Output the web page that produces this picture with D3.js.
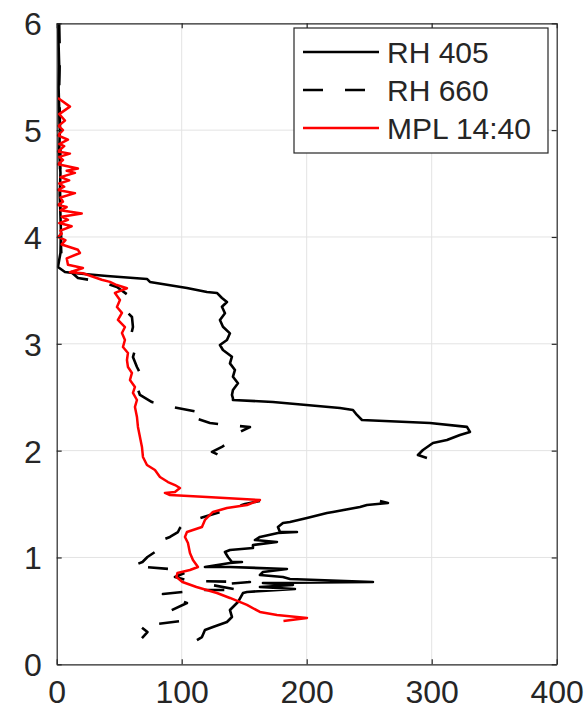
<!DOCTYPE html>
<html>
<head>
<meta charset="utf-8">
<script src="https://cdn.jsdelivr.net/npm/d3@7"></script>
<style>
  html, body { margin: 0; padding: 0; background: #fff; }
  text { font-family: Helvetica, "Liberation Sans", Arial, sans-serif; fill: #262626; }
</style>
</head>
<body>
<div id="chart"></div>
<script>
// axis ticks
const xTicks = [0, 100, 200, 300, 400];
const yTicks = [0, 1, 2, 3, 4, 5, 6];

// series: [value, height]; null breaks the line
const rh405 = [
  [1, 6.0], [1.5, 5.8], [2, 5.6], [1.5, 5.4], [2, 5.2], [2.5, 5.0], [2, 4.8], [3, 4.6],
  [2.5, 4.4], [3, 4.2], [3.5, 4.0], [3, 3.85], [1, 3.719], [6.6, 3.672], [13, 3.663],
  [40.2, 3.635], [72.2, 3.607], [74.6, 3.579], [104.2, 3.523], [120.2, 3.485], [128.2, 3.476],
  [132.2, 3.429], [136.2, 3.391], [132.2, 3.347], [134.6, 3.286], [130.6, 3.223], [133, 3.16],
  [138.6, 3.098], [136.2, 3.036], [130.6, 2.989], [133, 2.942], [140.2, 2.879], [138.6, 2.817],
  [142.6, 2.755], [141, 2.692], [145, 2.63], [141, 2.568], [140.2, 2.521], [141, 2.49],
  [141, 2.474], [173, 2.455], [226.6, 2.399], [237, 2.38], [240.2, 2.334], [244.2, 2.287],
  [298.6, 2.259], [328.2, 2.222], [330.6, 2.175], [322.6, 2.147], [312.2, 2.1], [301, 2.072],
  [293, 2.006], [289, 1.959], [296.2, 1.931],
  null,
  [258.6, 1.529], [265, 1.51], [248.2, 1.491], [242.6, 1.472], [221, 1.426], [216.2, 1.416],
  [200.2, 1.369], [186.6, 1.332], [181, 1.322], [177, 1.285], [178.6, 1.238], [192.2, 1.238],
  [177, 1.229], [162.6, 1.192], [158.6, 1.163], [176.2, 1.145], [157, 1.117], [157, 1.089],
  [138.6, 1.07], [134.6, 1.051], [137, 1.004], [140.2, 0.958], [148.2, 0.958], [138.6, 0.948],
  [118.6, 0.911], [138.6, 0.911], [184.2, 0.892], [165, 0.864], [162.6, 0.836], [181, 0.817],
  [186.6, 0.799], [253, 0.77], [165, 0.761], [189, 0.742], [162.6, 0.724], [190.6, 0.705],
  [152.2, 0.677], [149, 0.667], [145, 0.583], [138.6, 0.508], [140.2, 0.443], [136.2, 0.396],
  [125, 0.349], [118.6, 0.321], [116.2, 0.255], [112.2, 0.227]
];

const rh660 = [
  [2, 6.0], [2.5, 5.7], [2, 5.4], [2.5, 5.1], [3, 4.8], [2.5, 4.5], [3, 4.2], [3.5, 3.9],
  [4, 3.76], [10.6, 3.681], [17, 3.616], [36.2, 3.579], [48.2, 3.532], [57, 3.457],
  [54.6, 3.316], [60.2, 3.251], [61, 3.157], [58.6, 3.036], [62.6, 2.942], [61, 2.876],
  [64.2, 2.783], [66.6, 2.727], [68.2, 2.661], [64.2, 2.596], [66.6, 2.521], [76.2, 2.455],
  [93, 2.408], [105, 2.38], [117, 2.352], [110.6, 2.305], [122.6, 2.259], [136.2, 2.24],
  [154.6, 2.221], [146.6, 2.175], [138.6, 2.081], [132.2, 2.035], [124.2, 1.988], [133, 1.941],
  [126.6, 1.913],
  null,
  [162.6, 1.529], [150.6, 1.501], [136.2, 1.445], [120.2, 1.388], [106.6, 1.341], [101, 1.304],
  [98.6, 1.276], [97, 1.238], [90.6, 1.192], [82.6, 1.154], [78.6, 1.107], [81, 1.07],
  [72.6, 1.004], [68.6, 0.958], [60.6, 0.92], [90.6, 0.892], [104.2, 0.864], [94.6, 0.817],
  [106.6, 0.78], [154.6, 0.77], [124.2, 0.742], [146.6, 0.695], [114.6, 0.695], [85, 0.658],
  [104.2, 0.574], [89, 0.49], [99.4, 0.405], [66.6, 0.358], [72.6, 0.302], [68.2, 0.246]
];

const mpl1440 = [
  [1, 5.3], [10.6, 5.22], [2, 5.15], [6.6, 5.09], [1.5, 5.04], [5, 5.0], [1, 4.95], [9, 4.91],
  [2, 4.87], [6, 4.85], [1, 4.8], [10.6, 4.78], [2, 4.75], [5, 4.72], [1, 4.68], [17, 4.64],
  [8, 4.62], [14.6, 4.6], [3, 4.56], [10, 4.53], [2, 4.5], [6, 4.47], [1, 4.44], [14.6, 4.41],
  [3, 4.37], [5, 4.33], [1, 4.3], [8, 4.28], [3, 4.25], [20, 4.22], [4, 4.19], [9, 4.16],
  [2, 4.13], [12, 4.1], [3, 4.06], [4, 4.03], [1, 4.0], [7, 3.97], [4, 3.93], [17, 3.88],
  [18.6, 3.85], [8, 3.8], [9, 3.74], [21, 3.71], [10.6, 3.67], [21, 3.66], [36, 3.6],
  [42.6, 3.58], [48, 3.55], [56.2, 3.52], [46.6, 3.476], [50.6, 3.41], [48.2, 3.345],
  [52.2, 3.289], [49, 3.223], [54.6, 3.157], [52.2, 3.101], [54.6, 3.036], [53, 2.97],
  [57, 2.914], [56.2, 2.848], [57, 2.783], [60.2, 2.727], [58.6, 2.661], [62.6, 2.596],
  [61, 2.54], [64.2, 2.474], [62.6, 2.409], [64.2, 2.315], [65, 2.222], [66.6, 2.128],
  [68.2, 2.035], [69, 1.941], [72.2, 1.866], [78.6, 1.819], [82.6, 1.753], [89, 1.706],
  [94.6, 1.678], [98.6, 1.65], [94.6, 1.613], [86.6, 1.604], [90.6, 1.585], [120.2, 1.566],
  [162.6, 1.538], [152.2, 1.491], [136.2, 1.463], [125, 1.426], [118.6, 1.351], [116.2, 1.285],
  [104.2, 1.238], [102.6, 1.192], [105, 1.135], [106.6, 1.042], [109, 0.976], [113, 0.911],
  [106.6, 0.883], [96.6, 0.855], [95.8, 0.817], [100.6, 0.77], [111.8, 0.724], [128.2, 0.667],
  [138.6, 0.621], [152.2, 0.556], [162.6, 0.49], [176.2, 0.462], [200.2, 0.434], [181.4, 0.405]
];

const legendLabels = ['RH 405', 'RH 660', 'MPL 14:40'];

const width = 587, height = 714;
const margin = { top: 23.3, right: 30.3, bottom: 49.7, left: 56.7 };
const innerW = width - margin.left - margin.right;
const innerH = height - margin.top - margin.bottom;

const svg = d3.select('#chart')
  .append('svg')
  .attr('width', width)
  .attr('height', height);

// title sits above the visible window, only its descenders peek in
svg.append('text')
  .attr('x', 300)
  .attr('y', -6)
  .attr('text-anchor', 'middle')
  .style('font-size', '30px')
  .text('Monday (b)');

const g = svg.append('g')
  .attr('transform', `translate(${margin.left},${margin.top})`);

const x = d3.scaleLinear().domain([0, 400]).range([0, innerW]);
const y = d3.scaleLinear().domain([0, 6]).range([innerH, 0]);

// grid
g.append('g')
  .selectAll('line')
  .data(xTicks.slice(1, -1))
  .enter().append('line')
  .attr('x1', d => x(d)).attr('x2', d => x(d))
  .attr('y1', 0).attr('y2', innerH)
  .style('stroke', '#e3e3e3').style('stroke-width', 1);

g.append('g')
  .selectAll('line')
  .data(yTicks.slice(1, -1))
  .enter().append('line')
  .attr('x1', 0).attr('x2', innerW)
  .attr('y1', d => y(d)).attr('y2', d => y(d))
  .style('stroke', '#e3e3e3').style('stroke-width', 1);

// clip for data lines
g.append('clipPath').attr('id', 'plot-clip')
  .append('rect').attr('width', innerW).attr('height', innerH);

const line = d3.line()
  .defined(d => d != null)
  .x(d => x(d[0]))
  .y(d => y(d[1]));

const plot = g.append('g').attr('clip-path', 'url(#plot-clip)');

plot.append('path')
  .datum(rh660)
  .attr('d', line)
  .style('fill', 'none')
  .style('stroke', '#000')
  .style('stroke-width', 2.6)
  .style('stroke-dasharray', '20,22')
  .style('stroke-linejoin', 'round');

plot.append('path')
  .datum(rh405)
  .attr('d', line)
  .style('fill', 'none')
  .style('stroke', '#000')
  .style('stroke-width', 2.6)
  .style('stroke-linejoin', 'round');

plot.append('path')
  .datum(mpl1440)
  .attr('d', line)
  .style('fill', 'none')
  .style('stroke', '#ff0000')
  .style('stroke-width', 2.5)
  .style('stroke-linejoin', 'round');

// axes (box with inward ticks on all sides)
const tickLen = 5;
const axisColor = '#262626';
const fmt = d3.format('d');

const xAxisB = g.append('g').attr('transform', `translate(0,${innerH})`)
  .call(d3.axisBottom(x).tickValues(xTicks).tickFormat(fmt).tickSizeInner(-tickLen).tickSizeOuter(0).tickPadding(16));
const xAxisT = g.append('g')
  .call(d3.axisTop(x).tickValues(xTicks).tickSizeInner(-tickLen).tickSizeOuter(0).tickFormat(''));
const yAxisL = g.append('g')
  .call(d3.axisLeft(y).tickValues(yTicks).tickFormat(fmt).tickSizeInner(-tickLen).tickSizeOuter(0).tickPadding(15));
const yAxisR = g.append('g').attr('transform', `translate(${innerW},0)`)
  .call(d3.axisRight(y).tickValues(yTicks).tickSizeInner(-tickLen).tickSizeOuter(0).tickFormat(''));

[xAxisB, xAxisT, yAxisL, yAxisR].forEach(a => {
  a.select('.domain').style('stroke', axisColor).style('stroke-width', 1.2);
  a.selectAll('.tick line').style('stroke', axisColor).style('stroke-width', 1.2);
  a.selectAll('.tick text')
    .style('font-size', '32px')
    .style('font-family', 'Helvetica, "Liberation Sans", Arial, sans-serif')
    .style('fill', axisColor);
});
yAxisL.selectAll('.tick text').attr('dy', '0.36em');

// legend
const legendBox = { x: 294, y: 28, w: 254, h: 125 };
const legend = svg.append('g');
legend.append('rect')
  .attr('x', legendBox.x).attr('y', legendBox.y)
  .attr('width', legendBox.w).attr('height', legendBox.h)
  .style('fill', '#fff').style('stroke', axisColor).style('stroke-width', 1.2);

const legendStyles = [
  { stroke: '#000', dash: null, w: 2.6 },
  { stroke: '#000', dash: '20,22', w: 2.6 },
  { stroke: '#ff0000', dash: null, w: 2.5 }
];

const rowY = d3.scalePoint().domain(legendLabels).range([52, 128]);

legendLabels.forEach((label, i) => {
  const st = legendStyles[i];
  legend.append('line')
    .attr('x1', 303).attr('x2', 379)
    .attr('y1', rowY(label)).attr('y2', rowY(label))
    .style('stroke', st.stroke)
    .style('stroke-width', st.w)
    .style('stroke-dasharray', st.dash);
  legend.append('text')
    .attr('x', 387)
    .attr('y', rowY(label))
    .attr('dy', '0.36em')
    .style('font-size', '30px')
    .text(label);
});
</script>
</body>
</html>
